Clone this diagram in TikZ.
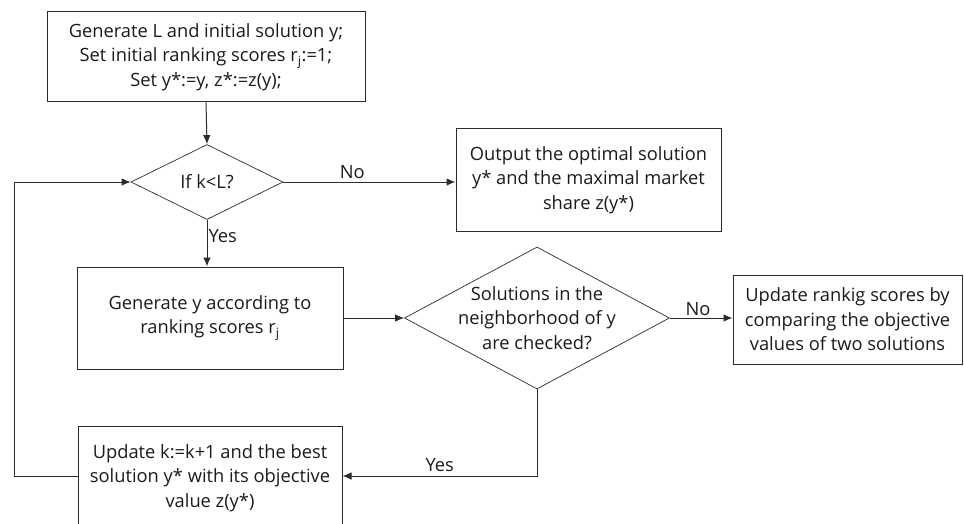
\documentclass[tikz,border=0pt]{standalone}
\usepackage{fontspec}
\setmainfont{Open Sans}
\usetikzlibrary{shapes.geometric,arrows.meta}
\definecolor{ln}{HTML}{2B2B2B}
\definecolor{tx}{HTML}{1A1A1A}
\begin{document}
\begin{tikzpicture}[x=1pt,y=-1pt,
  every node/.style={font=\fontsize{18.3}{24.5}\selectfont, text=tx},
  procbox/.style={draw=ln, line width=1pt, rectangle, inner sep=0pt, align=center},
  decision/.style={draw=ln, line width=0.7pt, diamond, inner sep=0pt, align=center},
  flow/.style={draw=ln, line width=1pt, -{Latex[length=9pt,width=7.5pt]}},
  lbl/.style={inner sep=1pt}]
\useasboundingbox (0,0) rectangle (964,524);

\node[procbox, minimum width=318pt, minimum height=90pt] (b1) at (206,57)
  {Generate L and initial solution y;\\Set initial ranking scores r\textsubscript{j}:=1;\\Set y*:=y, z*:=z(y);};
\node[decision, minimum width=152pt, minimum height=75pt, label={center:If k<L?}] (d1) at (207,182) {};
\node[procbox, minimum width=265pt, minimum height=102pt] (out) at (588.5,180)
  {Output the optimal solution\\y* and the maximal market\\share z(y*)};
\node[procbox, minimum width=266pt, minimum height=102pt] (b2) at (210,318)
  {Generate y according to\\ranking scores r\textsubscript{j}};
\node[decision, minimum width=265pt, minimum height=142pt,
  label={[align=center]center:Solutions in the\\neighborhood of y\\are checked?}] (d2) at (537,318) {};
\node[procbox, minimum width=229pt, minimum height=89pt] (upd) at (847.5,319.5)
  {Update rankig scores by\\comparing the objective\\values of two solutions};
\node[procbox, minimum width=264pt, minimum height=104pt] (b4) at (210,478)
  {Update k:=k+1 and the best\\solution y* with its objective\\value z(y*)};

\coordinate (yc) at (537,476);
\coordinate (lc1) at (14,476);
\coordinate (lc2) at (14,182);

\draw[flow] (b1.south) -- (d1.north);
\draw[flow] (d1.east) -- node[lbl, above=2pt, pos=0.4] {No} (out.west |- d1.east);
\draw[flow] (d1.south) -- node[lbl, right, pos=0.35] {Yes} (b2.north -| d1.south);
\draw[flow] (b2.east) -- (d2.west);
\draw[flow] (d2.east) -- node[lbl, above=1pt, pos=0.45] {No} (upd.west |- d2.east);
\draw[flow] (d2.south) -- (yc) -- node[lbl, above=3pt, pos=0.5] {Yes} (b4.east |- yc);
\draw[flow] (b4.west |- yc) -- (lc1) -- (lc2) -- (d1.west);
\end{tikzpicture}
\end{document}
